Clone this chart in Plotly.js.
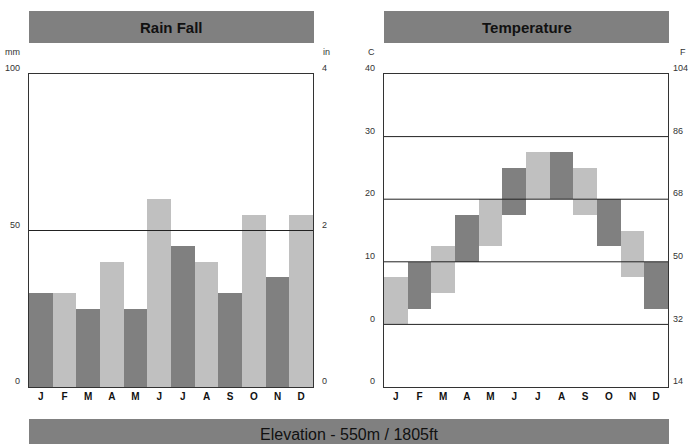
<!DOCTYPE html>
<html>
<head>
<meta charset="utf-8">
<script src="https://cdn.plot.ly/plotly-3.0.1.min.js"></script>
<style>
html,body{margin:0;padding:0;background:#fff;}
#chart{width:689px;height:444px;}
</style>
</head>
<body>
<div id="chart"></div>
<script>
// ---- data ----
const months = ["J","F","M","A","M","J","J","A","S","O","N","D"];
const rainMm = [30, 30, 25, 40, 25, 60, 45, 40, 30, 55, 35, 55];
const tempLow = [0, 2.5, 5, 10, 12.5, 17.5, 20, 20, 17.5, 12.5, 7.5, 2.5];
const tempHigh = [7.5, 10, 12.5, 17.5, 20, 25, 27.5, 27.5, 25, 20, 15, 10];
const rainTickVals = [0, 50, 100];
const rainTickText = ["0", "50", "100"];
const inTickVals = [0, 2, 4];
const inTickText = ["0", "2", "4"];
const rainGrid = [50];
const tempTickVals = [-10, 0, 10, 20, 30, 40];
const tempTickText = ["0", "0", "10", "20", "30", "40"];
const fTickVals = [14, 32, 50, 68, 86, 104];
const fTickText = ["14", "32", "50", "68", "86", "104"];
const tempGrid = [0, 10, 20, 30];
const elevationText = "Elevation - 550m / 1805ft";

// ---- styling ----
const W = 689, H = 444;
const DARK = "#808080", LIGHT = "#c0c0c0";
const px = v => v / W;
const py = v => 1 - v / H;
const xIdx = months.map((m, i) => i);

const rainColors = months.map((m, i) => i % 2 === 0 ? DARK : LIGHT);
const tempColors = months.map((m, i) => i % 2 === 0 ? LIGHT : DARK);

const traces = [
  {
    type: "bar", x: xIdx, y: rainMm, xaxis: "x", yaxis: "y",
    marker: {color: rainColors, line: {width: 0}}, hoverinfo: "none"
  },
  {
    type: "bar", x: xIdx, y: tempHigh.map((h, i) => h - tempLow[i]), base: tempLow,
    xaxis: "x2", yaxis: "y3",
    marker: {color: tempColors, line: {width: 0}}, hoverinfo: "none"
  }
];

const yDom = [py(387), py(74)];
const FONT = "Liberation Sans, Arial, sans-serif";
const tickFont = {family: FONT, size: 9, color: "#333"};
const xFont = {family: FONT, size: 10, color: "#111", weight: "bold"};

const xCommon = {
  tickmode: "array", tickvals: xIdx, ticktext: months, tickfont: xFont,
  range: [-0.5, 11.5], showgrid: false, zeroline: false, ticks: "",
  showline: true, mirror: true, linecolor: "#333", linewidth: 1.2, fixedrange: true
};
const yCommon = {
  showgrid: false, zeroline: false, ticks: "", tickmode: "array",
  tickfont: tickFont, ticklabelshift: -6, fixedrange: true
};

const layout = {
  width: W, height: H, margin: {l: 0, r: 0, t: 0, b: 0},
  paper_bgcolor: "#fff", plot_bgcolor: "rgba(0,0,0,0)",
  showlegend: false, bargap: 0,
  xaxis: Object.assign({}, xCommon, {domain: [px(29), px(313)], anchor: "y"}),
  xaxis2: Object.assign({}, xCommon, {domain: [px(384), px(668)], anchor: "y3"}),
  yaxis: Object.assign({}, yCommon, {domain: yDom, range: [0, 100], tickvals: rainTickVals, ticktext: rainTickText, anchor: "x", side: "left", ticklabelstandoff: 6, showline: true, mirror: true, linecolor: "#333", linewidth: 1.2}),
  yaxis2: Object.assign({}, yCommon, {domain: yDom, range: [0, 4], tickvals: inTickVals, ticktext: inTickText, overlaying: "y", anchor: "x", side: "right", ticklabelstandoff: 8, showline: false}),
  yaxis3: Object.assign({}, yCommon, {domain: yDom, range: [-10, 40], tickvals: tempTickVals, ticktext: tempTickText, anchor: "x2", side: "left", ticklabelstandoff: 6, showline: true, mirror: true, linecolor: "#333", linewidth: 1.2}),
  yaxis4: Object.assign({}, yCommon, {domain: yDom, range: [14, 104], tickvals: fTickVals, ticktext: fTickText, overlaying: "y3", anchor: "x2", side: "right", ticklabelstandoff: 4, showline: false}),
  shapes: [],
  annotations: []
};

// gridlines drawn above bars
rainGrid.forEach(v => layout.shapes.push({type: "line", xref: "x domain", yref: "y", x0: 0, x1: 1, y0: v, y1: v, layer: "above", line: {color: "#222", width: 1}}));
tempGrid.forEach(v => layout.shapes.push({type: "line", xref: "x2 domain", yref: "y3", x0: 0, x1: 1, y0: v, y1: v, layer: "above", line: {color: "#222", width: 1}}));

// title boxes
const boxes = [
  {x0: 29, x1: 314, y0: 11, y1: 43, text: "<b>Rain Fall</b>", size: 15},
  {x0: 384, x1: 669, y0: 11, y1: 43, text: "<b>Temperature</b>", size: 15},
  {x0: 29, x1: 669, y0: 419, y1: 450, text: elevationText, size: 16}
];
boxes.forEach((b, i) => {
  layout.shapes.push({type: "rect", xref: "paper", yref: "paper", x0: px(b.x0), x1: px(b.x1), y0: py(b.y1), y1: py(b.y0), fillcolor: DARK, line: {width: 0}, layer: "below"});
  const cy = i === 2 ? 434 : 27;
  layout.annotations.push({xref: "paper", yref: "paper", x: px((b.x0 + b.x1) / 2), y: py(cy), text: b.text, showarrow: false, xanchor: "center", yanchor: "middle", font: {family: FONT, size: b.size, color: "#111"}});
});

// unit labels
const units = [
  {t: "mm", x: 22, a: "right"},
  {t: "in", x: 321, a: "left"},
  {t: "C", x: 377, a: "right"},
  {t: "F", x: 678, a: "left"}
];
units.forEach(u => layout.annotations.push({xref: "paper", yref: "paper", x: px(u.x), y: py(52), text: u.t, showarrow: false, xanchor: u.a, yanchor: "middle", font: tickFont}));

// invisible anchors for the right axes
traces.push({type: "scatter", x: [0], y: [0], xaxis: "x", yaxis: "y2", mode: "markers", marker: {opacity: 0}, hoverinfo: "none"});
traces.push({type: "scatter", x: [0], y: [14], xaxis: "x2", yaxis: "y4", mode: "markers", marker: {opacity: 0}, hoverinfo: "none"});

Plotly.newPlot("chart", traces, layout, {staticPlot: true, displayModeBar: false});
</script>
</body>
</html>
